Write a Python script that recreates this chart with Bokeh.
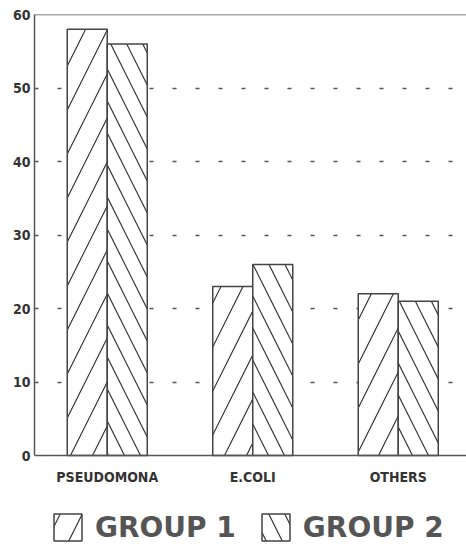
from bokeh.plotting import figure
from bokeh.models import ColumnDataSource, Range1d, FixedTicker, Legend, LegendItem, Span
from bokeh.transform import dodge
from bokeh.embed import file_html
from bokeh.resources import INLINE

categories = ["PSEUDOMONA", "E.COLI", "OTHERS"]
group1 = [58, 23, 22]
group2 = [56, 26, 21]
y_ticks = [0, 10, 20, 30, 40, 50, 60]
series_names = ["GROUP 1", "GROUP 2"]

xpos = [i + 0.5 for i in range(len(categories))]
src = ColumnDataSource(dict(x=xpos, cat=categories, g1=group1, g2=group2))

# frame runs to the bottom of the canvas; x axis sits at y=0 inside it
p = figure(width=466, height=546, output_backend="svg", toolbar_location=None,
           x_range=Range1d(0, 2.969), y_range=Range1d(-12.38, 60),
           min_border_left=34, min_border_right=0, min_border_top=14, min_border_bottom=0)
p.outline_line_color = None
p.background_fill_color = "white"

AX = "#555555"
LABEL_FONT = "DejaVu Sans Condensed"
p.xaxis.ticker = FixedTicker(ticks=xpos)
p.xaxis.major_label_overrides = {x: c for x, c in zip(xpos, categories)}
p.xaxis.fixed_location = 0
p.yaxis.ticker = FixedTicker(ticks=y_ticks)
p.yaxis.bounds = (y_ticks[0], y_ticks[-1])
for ax in (p.xaxis, p.yaxis):
    ax.axis_line_color = AX
    ax.axis_line_width = 1.5
    ax.major_tick_in = 0
    ax.major_tick_out = 0
    ax.minor_tick_line_color = None
    ax.major_label_text_font = LABEL_FONT
    ax.major_label_text_font_style = "bold"
    ax.major_label_text_font_size = "14px"
    ax.major_label_text_color = "#333333"
p.yaxis.major_label_standoff = 4
p.xaxis.major_label_standoff = 13

p.xgrid.grid_line_color = None
p.ygrid.ticker = FixedTicker(ticks=y_ticks[1:-1])
p.ygrid.grid_line_color = AX
p.ygrid.grid_line_width = 1.5
p.ygrid.grid_line_dash = "4 19"

p.add_layout(Span(location=y_ticks[-1], dimension="width", line_color=AX, line_width=1.5))

common = dict(source=src, width=0.275, fill_color="white", line_color="#444444", line_width=1.5,
              hatch_color="#333333", hatch_weight=1.2)
r1 = p.vbar(x=dodge("x", -0.1375), top="g1", hatch_pattern="/", hatch_scale=44, **common)
r2 = p.vbar(x=dodge("x", 0.1375), top="g2", hatch_pattern="\\", hatch_scale=32, **common)

legend = Legend(items=[LegendItem(label=series_names[0], renderers=[r1]),
                       LegendItem(label=series_names[1], renderers=[r2])],
                orientation="horizontal", location=(16, 2),
                glyph_width=35, glyph_height=34, label_standoff=10, spacing=22,
                padding=0, margin=0, border_line_color=None, background_fill_alpha=0,
                label_text_font="DejaVu Sans", label_text_font_style="bold",
                label_text_font_size="28px", label_text_color="#555555",
                label_height=34)
p.add_layout(legend, "center")

open("out.html", "w").write(file_html(p, INLINE))
